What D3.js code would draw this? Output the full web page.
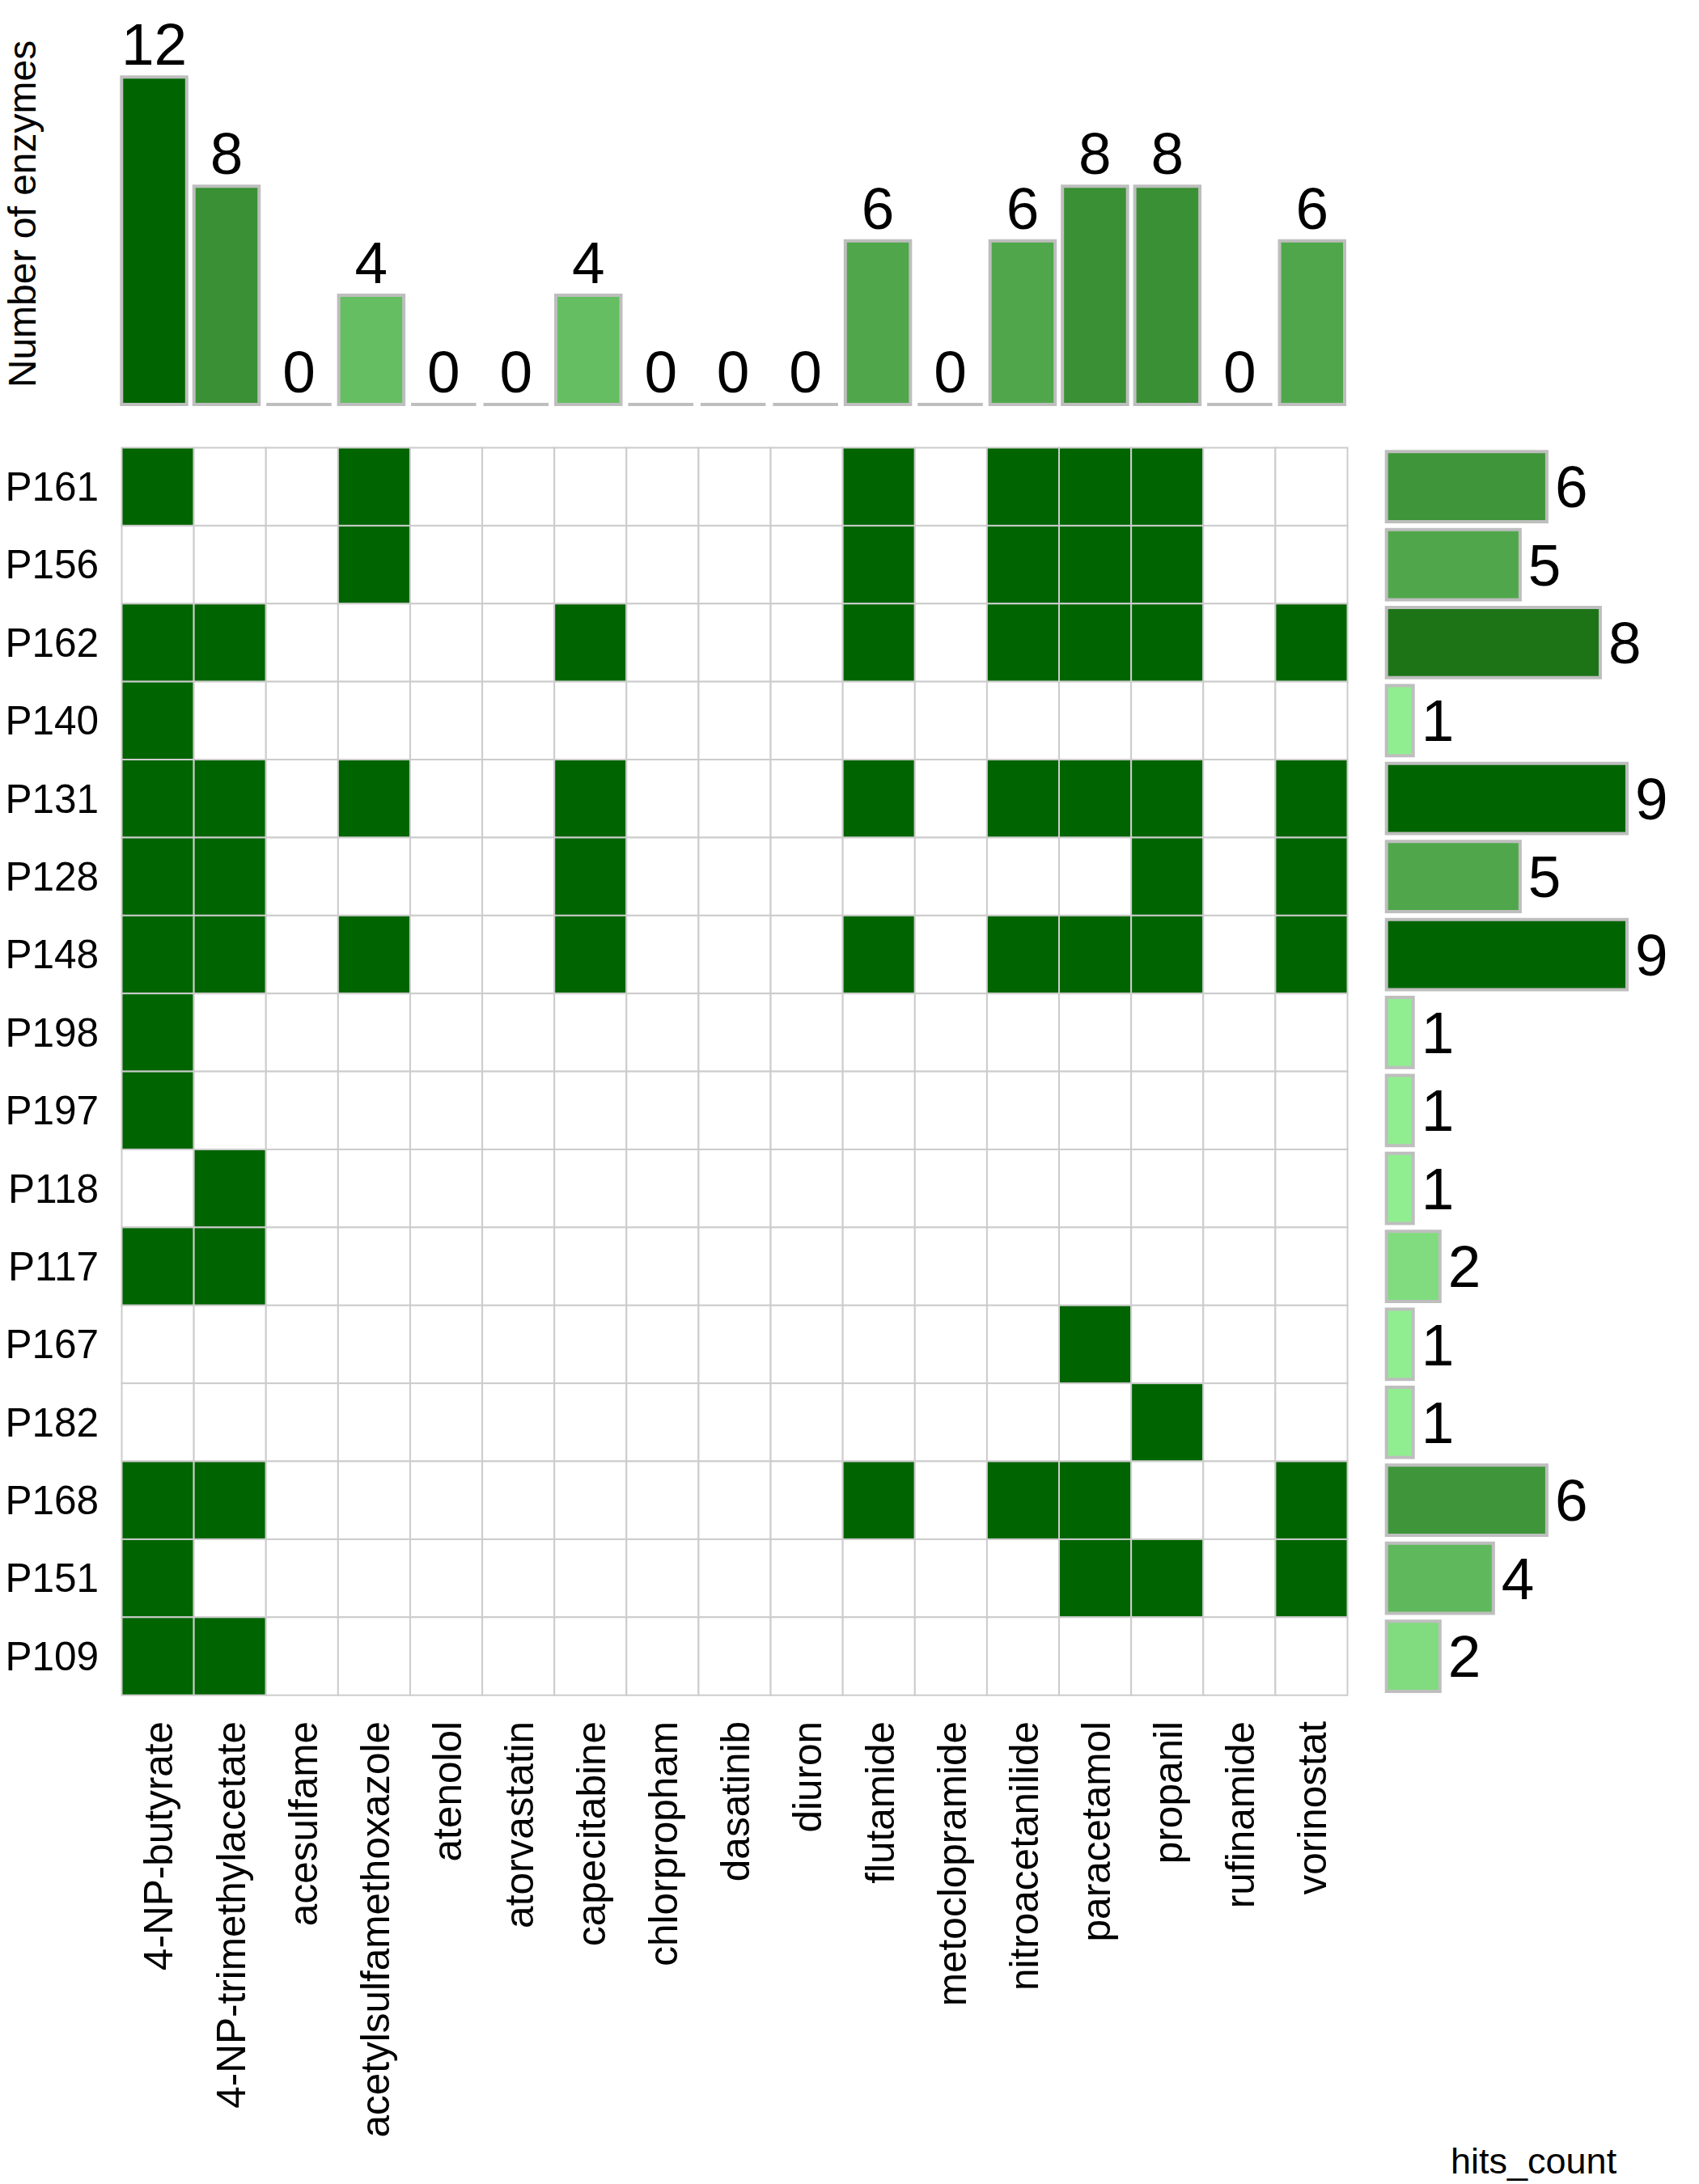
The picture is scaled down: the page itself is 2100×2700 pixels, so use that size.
<!DOCTYPE html>
<html>
<head>
<meta charset="utf-8">
<script src="https://cdn.jsdelivr.net/npm/d3@7/dist/d3.min.js"></script>
<style>
  html, body { margin: 0; padding: 0; background: #ffffff; }
  svg { display: block; }
  text { font-family: "Liberation Sans", Arial, Helvetica, sans-serif; fill: #000; }
</style>
</head>
<body>
<script>
// ---------------- data ----------------
const substrates = ["4-NP-butyrate", "4-NP-trimethylacetate", "acesulfame", "acetylsulfamethoxazole",
  "atenolol", "atorvastatin", "capecitabine", "chlorpropham", "dasatinib", "diuron", "flutamide",
  "metoclopramide", "nitroacetanilide", "paracetamol", "propanil", "rufinamide", "vorinostat"];

const enzymes = ["P161", "P156", "P162", "P140", "P131", "P128", "P148", "P198", "P197",
  "P118", "P117", "P167", "P182", "P168", "P151", "P109"];

// hits per enzyme (1 = hit), columns in the order of `substrates`
const hits = [
  [1,0,0,1,0,0,0,0,0,0,1,0,1,1,1,0,0], // P161
  [0,0,0,1,0,0,0,0,0,0,1,0,1,1,1,0,0], // P156
  [1,1,0,0,0,0,1,0,0,0,1,0,1,1,1,0,1], // P162
  [1,0,0,0,0,0,0,0,0,0,0,0,0,0,0,0,0], // P140
  [1,1,0,1,0,0,1,0,0,0,1,0,1,1,1,0,1], // P131
  [1,1,0,0,0,0,1,0,0,0,0,0,0,0,1,0,1], // P128
  [1,1,0,1,0,0,1,0,0,0,1,0,1,1,1,0,1], // P148
  [1,0,0,0,0,0,0,0,0,0,0,0,0,0,0,0,0], // P198
  [1,0,0,0,0,0,0,0,0,0,0,0,0,0,0,0,0], // P197
  [0,1,0,0,0,0,0,0,0,0,0,0,0,0,0,0,0], // P118
  [1,1,0,0,0,0,0,0,0,0,0,0,0,0,0,0,0], // P117
  [0,0,0,0,0,0,0,0,0,0,0,0,0,1,0,0,0], // P167
  [0,0,0,0,0,0,0,0,0,0,0,0,0,0,1,0,0], // P182
  [1,1,0,0,0,0,0,0,0,0,1,0,1,1,0,0,1], // P168
  [1,0,0,0,0,0,0,0,0,0,0,0,0,1,1,0,1], // P151
  [1,1,0,0,0,0,0,0,0,0,0,0,0,0,0,0,0]  // P109
];

// totals as printed on the marginal bars
const enzymesPerSubstrate = [12, 8, 0, 4, 0, 0, 4, 0, 0, 0, 6, 0, 6, 8, 8, 0, 6];
const hitsPerEnzyme = [6, 5, 8, 1, 9, 5, 9, 1, 1, 1, 2, 1, 1, 6, 4, 2];

const yTitle = "Number of enzymes";
const xTitleRight = "hits_count";

// ---------------- layout ----------------
const W = 2100, H = 2700;
const heat = { left: 150.5, right: 1665.5, top: 553.5, bottom: 2095.7 };
const topPanel = { left: 145.8, right: 1666.5, base: 500, top: 95.3 };
const rightPanel = { left: 1713.7, right: 2011 };
const HIT = "#006400", GRID = "#cccccc", BORDER = "#bebebe";
const NUM_FONT = 73, AX_FONT = 49.5;

const svg = d3.select("body").append("svg")
  .attr("width", W).attr("height", H)
  .attr("viewBox", `0 0 ${W} ${H}`);
svg.append("rect").attr("width", W).attr("height", H).attr("fill", "#fff");

const x = d3.scaleBand().domain(substrates).range([heat.left, heat.right]);
const y = d3.scaleBand().domain(enzymes).range([heat.top, heat.bottom]);

// ---------------- heatmap ----------------
const cells = [];
enzymes.forEach((e, i) => substrates.forEach((s, j) => cells.push({ e, s, v: hits[i][j] })));

svg.append("g").selectAll("rect").data(cells).join("rect")
  .attr("x", d => x(d.s)).attr("y", d => y(d.e))
  .attr("width", x.bandwidth()).attr("height", y.bandwidth())
  .attr("fill", d => d.v ? HIT : "#ffffff")
  .attr("stroke", GRID).attr("stroke-width", 2);

// row labels
svg.append("g").selectAll("text").data(enzymes).join("text")
  .attr("x", 122).attr("y", d => y(d) + y.bandwidth() / 2)
  .attr("dy", "0.35em").attr("text-anchor", "end")
  .attr("font-size", AX_FONT).text(d => d);

// column labels
svg.append("g").selectAll("text").data(substrates).join("text")
  .attr("transform", d => `translate(${x(d) + x.bandwidth() / 2},2128) rotate(-90)`)
  .attr("dy", "0.37em").attr("text-anchor", "end")
  .attr("font-size", AX_FONT).text(d => d);

// path for a bar (works with zero size too)
function barPath(x0, y0, w, h) {
  return `M${x0},${y0}h${w}v${h}h${-w}Z`;
}

// ---------------- top bars ----------------
const xTop = d3.scaleBand().domain(substrates).range([topPanel.left, topPanel.right]);
const topMax = d3.max(enzymesPerSubstrate);
const yTop = d3.scaleLinear().domain([0, topMax]).range([topPanel.base, topPanel.top]);
const topColor = d3.scaleLinear()
  .domain(d3.extent(enzymesPerSubstrate))
  .range(["#90ee90", HIT]).interpolate(d3.interpolateLab);
const bwTop = xTop.bandwidth() * 0.9;
const topData = substrates.map((s, j) => ({ s, v: enzymesPerSubstrate[j] }));

svg.append("g").selectAll("path").data(topData).join("path")
  .attr("d", d => barPath(xTop(d.s) + (xTop.bandwidth() - bwTop) / 2, yTop(d.v), bwTop, yTop(0) - yTop(d.v)))
  .attr("fill", d => topColor(d.v))
  .attr("stroke", BORDER).attr("stroke-width", 4).attr("stroke-linejoin", "miter");

svg.append("g").selectAll("text").data(topData).join("text")
  .attr("x", d => xTop(d.s) + xTop.bandwidth() / 2)
  .attr("y", d => yTop(d.v) - 15)
  .attr("text-anchor", "middle").attr("font-size", NUM_FONT)
  .text(d => d.v);

svg.append("text")
  .attr("transform", `translate(43.5,${(43 + 486) / 2}) rotate(-90)`)
  .attr("text-anchor", "middle").attr("font-size", 48)
  .text(yTitle);

// ---------------- right bars ----------------
const rightMax = d3.max(hitsPerEnzyme);
const xRight = d3.scaleLinear().domain([0, rightMax]).range([rightPanel.left, rightPanel.right]);
const rightColor = d3.scaleLinear()
  .domain(d3.extent(hitsPerEnzyme))
  .range(["#90ee90", HIT]).interpolate(d3.interpolateLab);
const bhRight = y.bandwidth() * 0.9;
const rightData = enzymes.map((e, i) => ({ e, v: hitsPerEnzyme[i] }));

svg.append("g").selectAll("path").data(rightData).join("path")
  .attr("d", d => barPath(xRight(0), y(d.e) + (y.bandwidth() - bhRight) / 2, xRight(d.v) - xRight(0), bhRight))
  .attr("fill", d => rightColor(d.v))
  .attr("stroke", BORDER).attr("stroke-width", 4);

svg.append("g").selectAll("text").data(rightData).join("text")
  .attr("x", d => xRight(d.v) + 10)
  .attr("y", d => y(d.e) + y.bandwidth() / 2)
  .attr("dy", "0.35em").attr("font-size", NUM_FONT)
  .text(d => d.v);

svg.append("text")
  .attr("x", 1793).attr("y", 2687)
  .attr("font-size", 45)
  .text(xTitleRight);
</script>
</body>
</html>
